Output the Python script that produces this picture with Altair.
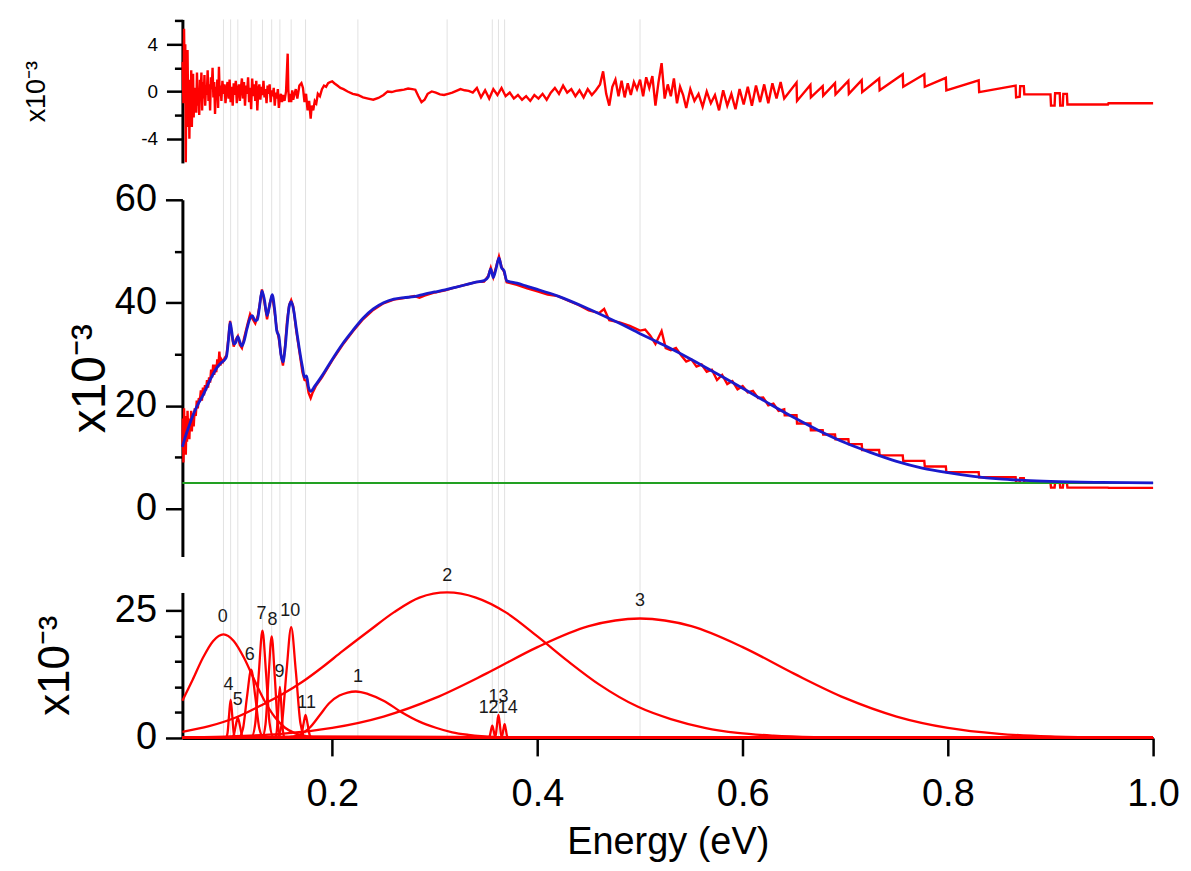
import altair as alt
import pandas as pd

FONT = "Liberation Sans"
RED = "#ff0000"
BLUE = "#1a1acc"
GREEN = "#22a022"
GRID = "#e2e2e2"

# ---------------- data (values in units of 1e-3) ----------------
GRID_X = [0.094, 0.101, 0.108, 0.121, 0.132, 0.141, 0.149, 0.160, 0.174,
          0.225, 0.312, 0.356, 0.362, 0.368, 0.5]
X_TICKS = [0.2, 0.4, 0.6, 0.8, 1.0]

RESIDUAL = [
    (0.0543, 2.5), (0.0550, -1.0), (0.0556, 5.3), (0.0562, 1.0), (0.0568, 4.0), (0.0573, -6.0),
    (0.0579, 2.0), (0.0585, -3.0), (0.0590, 3.5), (0.0596, -1.5), (0.0602, 1.0), (0.0608, -4.0),
    (0.0614, 0.5), (0.0620, -2.5), (0.0626, 1.8), (0.0632, -3.0), (0.0638, -0.2), (0.0644, 1.5),
    (0.0650, -2.2), (0.0656, 0.3), (0.0662, -0.8), (0.0668, 0.2), (0.0675, -1.8), (0.0682, 1.6),
    (0.0690, -1.2), (0.0697, 0.3), (0.0704, -2.0), (0.0711, 1.0), (0.0718, -0.5), (0.0725, 1.6),
    (0.0732, -1.6), (0.0740, 0.8), (0.0747, -0.6), (0.0755, 1.4), (0.0762, -1.2), (0.0770, 0.5),
    (0.0778, -0.3), (0.0786, 1.8), (0.0794, -0.8), (0.0802, 0.6), (0.0810, -1.6), (0.0818, 1.2),
    (0.0826, 0.2), (0.0834, 2.0), (0.0842, -0.5), (0.0850, 0.8), (0.0858, -1.9), (0.0866, 0.4),
    (0.0874, -0.6), (0.0880, 1.0), (0.0888, -1.4), (0.0896, 2.1), (0.0904, -0.4), (0.0912, 0.5),
    (0.0920, -0.8), (0.0930, 0.9), (0.0940, -0.2), (0.0950, 0.6), (0.0960, -1.0), (0.0970, 0.2),
    (0.0980, 0.8), (0.0990, -0.6), (0.1000, 1.0), (0.1010, -0.9), (0.1020, 0.4), (0.1030, -1.2),
    (0.1040, 0.7), (0.1050, -0.3), (0.1060, 0.9), (0.1070, -1.0), (0.1080, 0.2), (0.1090, 0.6),
    (0.1100, -0.8), (0.1110, 0.3), (0.1120, 1.1), (0.1130, -0.6), (0.1140, 0.8), (0.1150, -1.2),
    (0.1160, 0.5), (0.1170, -0.2), (0.1180, 1.2), (0.1190, -0.9), (0.1200, 0.3), (0.1210, -1.5),
    (0.1220, 1.1), (0.1230, -0.4), (0.1240, 0.6), (0.1250, -0.8), (0.1260, 0.9), (0.1270, -1.6),
    (0.1280, 0.2), (0.1290, 0.6), (0.1300, -0.7), (0.1310, 0.4), (0.1320, -0.3), (0.1330, 0.9),
    (0.1340, -0.5), (0.1350, 0.2), (0.1360, -1.0), (0.1370, 0.5), (0.1380, -0.2), (0.1390, 0.6),
    (0.1400, -0.9), (0.1410, 0.1), (0.1420, -0.4), (0.1430, 0.3), (0.1440, -1.2), (0.1450, -0.1),
    (0.1460, -0.6), (0.1470, 0.2), (0.1480, -1.4), (0.1490, -0.5), (0.1500, -0.2), (0.1510, -0.9),
    (0.1520, -0.3), (0.1535, -0.8), (0.1550, 0.0), (0.1560, 2.0), (0.1566, 3.2), (0.1572, 0.2),
    (0.1580, -0.9), (0.1590, -0.2), (0.1600, -0.9), (0.1610, 0.1), (0.1620, -0.7), (0.1630, -0.3),
    (0.1645, 0.2), (0.1660, -0.6), (0.1680, 0.5), (0.1700, 0.7), (0.1715, 0.3), (0.1730, -0.9),
    (0.1745, -0.2), (0.1760, -1.6), (0.1775, -0.8), (0.1790, -2.3), (0.1800, -1.2), (0.1815, -1.6),
    (0.1830, -0.8), (0.1845, -1.0), (0.1860, -0.2), (0.1880, -0.4), (0.1900, 0.2), (0.1920, 0.5),
    (0.1940, 0.4), (0.1960, 0.7), (0.1980, 0.8), (0.2000, 0.85), (0.2020, 0.7), (0.2050, 0.5),
    (0.2080, 0.3), (0.2110, 0.2), (0.2150, 0.0), (0.2200, -0.2), (0.2250, -0.3), (0.2300, -0.5),
    (0.2350, -0.6), (0.2400, -0.7), (0.2450, -0.55), (0.2500, -0.3), (0.2540, 0.0), (0.2580, -0.05),
    (0.2620, 0.05), (0.2660, 0.1), (0.2700, 0.15), (0.2740, 0.25), (0.2780, 0.2), (0.2810, 0.15),
    (0.2840, -0.4), (0.2870, -0.9), (0.2900, -0.7), (0.2930, -0.2), (0.2970, 0.0), (0.3010, -0.1),
    (0.3050, -0.25), (0.3090, -0.3), (0.3130, -0.2), (0.3170, -0.1), (0.3210, 0.05), (0.3250, 0.2),
    (0.3290, 0.1), (0.3330, 0.05), (0.337, -0.1), (0.341, 0.3), (0.345, -0.5), (0.349, 0.1),
    (0.353, -0.6), (0.357, 0.2), (0.361, -0.3), (0.365, 0.3), (0.369, -0.4), (0.373, -0.1),
    (0.377, -0.6), (0.381, -0.3), (0.385, -0.7), (0.389, -0.4), (0.393, -0.8), (0.397, -0.3),
    (0.401, -0.6), (0.405, -0.2), (0.409, -0.7), (0.413, -0.1), (0.417, 0.3), (0.421, -0.2),
    (0.425, 0.5), (0.429, -0.1), (0.433, 0.2), (0.437, -0.4), (0.441, 0.1), (0.445, -0.5),
    (0.449, 0.2), (0.453, -0.3), (0.457, 0.1), (0.461, 0.6), (0.464, 1.7), (0.467, -0.2),
    (0.470, -1.2), (0.473, 0.4), (0.476, 1.0), (0.479, -0.4), (0.482, 0.9), (0.485, -0.5),
    (0.488, 0.7), (0.491, -0.3), (0.494, 0.8), (0.497, 0.2), (0.500, 1.0), (0.503, -0.4),
    (0.506, 1.2), (0.509, 0.3), (0.512, 1.3), (0.515, -1.2), (0.518, 0.8), (0.521, 2.4),
    (0.524, -0.6), (0.527, 0.6), (0.530, -0.4), (0.533, 1.1), (0.536, -1.0), (0.539, 0.4),
    (0.542, -0.3), (0.545, -1.4), (0.549, 0.2), (0.553, -0.8), (0.557, -0.2), (0.561, -1.3),
    (0.565, 0.0), (0.569, -1.0), (0.573, -0.3), (0.577, -1.6), (0.581, 0.1), (0.585, -1.2),
    (0.589, -0.2), (0.593, -1.5), (0.597, 0.2), (0.601, -1.1), (0.605, 0.4), (0.609, -1.2),
    (0.613, 0.5), (0.617, -0.9), (0.621, 0.6), (0.625, -1.0), (0.629, 0.7), (0.633, -0.6),
    (0.637, 0.8), (0.6405, -0.6), (0.6525, 0.75), (0.6530, -0.8), (0.6660, 0.55), (0.6665, -0.5),
    (0.6780, 0.45), (0.6785, -0.35), (0.6900, 0.7), (0.6905, -0.25), (0.7030, 0.9), (0.7035, -0.2),
    (0.7160, 0.95), (0.7165, -0.05), (0.7330, 1.1), (0.7335, 0.1), (0.7560, 1.45), (0.7565, 0.4),
    (0.7770, 1.45), (0.7775, 0.4), (0.7980, 1.15), (0.7985, 0.1), (0.8300, 0.95), (0.8305, -0.05),
    (0.8660, 0.5), (0.8665, -0.5), (0.8700, -0.45), (0.8705, 0.45), (0.8740, 0.45), (0.8745, -0.25),
    (0.9000, -0.25), (0.9005, -1.2), (0.9040, -1.2), (0.9045, -0.15), (0.9090, -0.15), (0.9095, -1.2),
    (0.9120, -1.2), (0.9125, -0.2), (0.9160, -0.2), (0.9165, -1.1), (0.9560, -1.1), (0.9565, -1.0),
    (1.0000, -1.0),
]

MEASURED = [
    (0.0540, 12.0), (0.0545, 17.5), (0.0550, 9.0), (0.0556, 19.5), (0.0562, 13.0), (0.0568, 18.0),
    (0.0573, 10.5), (0.0579, 16.5), (0.0585, 13.0), (0.0590, 19.0), (0.0596, 15.0), (0.0602, 17.0),
    (0.0608, 13.5), (0.0614, 17.5), (0.0620, 15.5), (0.0626, 19.0), (0.0632, 15.0), (0.0640, 18.5),
    (0.0650, 16.0), (0.0660, 19.5), (0.0670, 18.0), (0.0680, 21.0), (0.0690, 19.5), (0.0700, 21.5),
    (0.0710, 21.0), (0.0720, 23.0), (0.0730, 21.0), (0.0740, 23.5), (0.0750, 22.0), (0.0760, 24.0),
    (0.0770, 23.0), (0.0780, 25.0), (0.0790, 23.5), (0.0800, 25.5), (0.0810, 24.5), (0.0820, 27.0),
    (0.0830, 25.5), (0.0840, 28.0), (0.0850, 26.0), (0.0860, 28.0), (0.0870, 26.5), (0.0880, 29.0),
    (0.0890, 27.5), (0.0900, 30.5), (0.0910, 27.8), (0.0920, 29.0), (0.0935, 28.5), (0.0950, 29.2),
    (0.0970, 29.8), (0.0990, 33.5), (0.1005, 36.5), (0.1020, 34.0), (0.1040, 31.5), (0.1060, 32.8),
    (0.1080, 33.5), (0.1100, 31.8), (0.1120, 31.2), (0.1140, 33.0), (0.1170, 35.5), (0.1200, 37.8),
    (0.1220, 37.0), (0.1250, 36.0), (0.1275, 37.5), (0.1300, 40.5), (0.1315, 42.6), (0.1340, 40.0),
    (0.1365, 36.8), (0.1390, 39.8), (0.1415, 41.5), (0.1440, 38.0), (0.1460, 34.8), (0.1480, 33.0),
    (0.1500, 30.0), (0.1520, 27.8), (0.1540, 31.5), (0.1560, 36.5), (0.1580, 39.5), (0.1600, 40.5),
    (0.1620, 39.3), (0.1650, 34.5), (0.1680, 30.5), (0.1710, 26.5), (0.1730, 25.0), (0.1750, 24.8),
    (0.1770, 22.5), (0.1790, 21.5), (0.1810, 22.6), (0.1840, 23.8), (0.1900, 25.5), (0.2000, 28.8),
    (0.2100, 31.8), (0.2200, 34.4), (0.2300, 36.8), (0.2400, 38.6), (0.2500, 39.9), (0.2600, 40.6),
    (0.2700, 40.9), (0.2800, 41.3), (0.2850, 41.0), (0.2900, 41.4), (0.3000, 42.0), (0.3100, 42.4),
    (0.3200, 43.0), (0.3300, 43.5), (0.3400, 44.0), (0.3480, 44.1), (0.3520, 45.2), (0.3545, 46.8),
    (0.3570, 45.0), (0.3595, 46.8), (0.3625, 49.0), (0.3650, 47.0), (0.3675, 46.0), (0.3700, 44.0),
    (0.3800, 43.5), (0.3900, 42.8), (0.4000, 42.2), (0.4100, 41.6), (0.4200, 41.3), (0.4300, 40.4),
    (0.4400, 39.6), (0.4500, 38.5), (0.4600, 38.0), (0.4650, 38.8), (0.4700, 36.6), (0.4800, 36.2),
    (0.4900, 35.5), (0.5000, 34.6), (0.5050, 34.8), (0.5100, 33.6), (0.5150, 32.0), (0.5210, 34.5),
    (0.5250, 31.2), (0.5300, 30.8), (0.5350, 31.2), (0.5400, 29.8), (0.5450, 28.6), (0.5500, 29.0),
    (0.5550, 27.6), (0.5600, 28.0), (0.5650, 26.6), (0.5700, 27.0), (0.5750, 25.0), (0.5800, 26.0),
    (0.5850, 24.2), (0.5900, 24.8), (0.5950, 23.2), (0.6000, 23.8), (0.6050, 22.6), (0.6100, 22.9),
    (0.6150, 21.5), (0.6200, 21.6), (0.6250, 20.1), (0.6300, 20.4), (0.6350, 19.0), (0.6405, 19.3),
    (0.6410, 18.15), (0.6525, 18.15), (0.6530, 16.55), (0.6660, 16.55), (0.6665, 15.25), (0.6780, 15.25),
    (0.6785, 14.4), (0.6900, 14.4), (0.6905, 13.5), (0.7030, 13.5), (0.7035, 12.55), (0.7160, 12.55),
    (0.7165, 11.4), (0.7330, 11.4), (0.7335, 10.35), (0.7560, 10.35), (0.7565, 9.3), (0.7770, 9.3),
    (0.7775, 8.2), (0.7980, 8.2), (0.7985, 7.1), (0.8300, 7.1), (0.8305, 6.1), (0.8660, 6.1),
    (0.8665, 5.05), (0.8700, 5.05), (0.8705, 5.95), (0.8740, 5.95), (0.8745, 5.05), (0.9000, 5.05),
    (0.9005, 4.1), (0.9040, 4.1), (0.9045, 5.13), (0.9090, 5.13), (0.9095, 4.1), (0.9120, 4.1),
    (0.9125, 5.05), (0.9160, 5.05), (0.9165, 4.1), (0.9560, 4.1), (0.9565, 4.05), (1.0000, 4.05),
]

FIT = [
    (0.0540, 12.0), (0.0563, 13.6), (0.0600, 15.8), (0.0650, 18.5), (0.0700, 20.6), (0.0740, 22.0),
    (0.0790, 24.2), (0.0835, 26.0), (0.0880, 27.5), (0.0920, 28.4), (0.0950, 28.9), (0.0970, 29.6),
    (0.0990, 33.0), (0.1005, 36.2), (0.1020, 34.5), (0.1040, 32.0), (0.1060, 32.3), (0.1080, 33.4),
    (0.1100, 32.4), (0.1120, 31.6), (0.1140, 32.5), (0.1170, 35.0), (0.1200, 37.0), (0.1220, 37.5),
    (0.1250, 36.5), (0.1270, 36.7), (0.1290, 39.0), (0.1315, 42.3), (0.1340, 40.5), (0.1365, 37.5),
    (0.1390, 39.5), (0.1415, 41.6), (0.1440, 38.5), (0.1460, 34.5), (0.1480, 33.5), (0.1500, 30.0),
    (0.1520, 28.5), (0.1540, 31.0), (0.1560, 35.5), (0.1580, 39.2), (0.1600, 40.2), (0.1620, 39.0),
    (0.1650, 35.0), (0.1680, 31.0), (0.1710, 27.5), (0.1730, 25.5), (0.1750, 25.8), (0.1770, 23.5),
    (0.1790, 22.8), (0.1830, 23.8), (0.1900, 25.8), (0.2000, 29.0), (0.2100, 32.0), (0.2200, 34.6),
    (0.2300, 37.0), (0.2400, 38.8), (0.2500, 40.0), (0.2600, 40.7), (0.2700, 41.0), (0.2800, 41.2),
    (0.2900, 41.7), (0.3000, 42.1), (0.3100, 42.5), (0.3200, 43.0), (0.3300, 43.5), (0.3400, 44.0),
    (0.3480, 44.3), (0.3520, 45.0), (0.3545, 46.6), (0.3570, 44.9), (0.3595, 46.5), (0.3625, 48.7),
    (0.3650, 46.8), (0.3675, 46.2), (0.3700, 44.3), (0.3800, 43.8), (0.3900, 43.2), (0.4000, 42.6),
    (0.4200, 41.3), (0.4500, 38.8), (0.4800, 36.0), (0.5000, 34.0), (0.5250, 31.6), (0.5500, 29.0),
    (0.5750, 26.2), (0.6000, 23.4), (0.6250, 20.5), (0.6500, 17.7), (0.6750, 15.1), (0.7000, 12.8),
    (0.7250, 10.9), (0.7500, 9.2), (0.7750, 7.9), (0.8000, 7.0), (0.8250, 6.3), (0.8500, 5.8),
    (0.8750, 5.5), (0.9000, 5.3), (0.9500, 5.1), (1.0000, 5.0),
]

BASELINE = [5.0]

PEAK_0 = [(0.054, 7.3), (0.064, 11.4), (0.074, 15.7), (0.084, 19.0), (0.094, 20.3), (0.104, 19.0),
          (0.114, 15.7), (0.124, 11.4), (0.134, 7.3), (0.144, 4.1), (0.154, 2.0), (0.164, 0.9),
          (0.174, 0.34), (0.19, 0.06), (0.21, 0.0), (1.0, 0.0)]
PEAK_1 = [(0.054, 0.0), (0.15, 0.05), (0.16, 0.2), (0.17, 0.8), (0.178, 2.0), (0.188, 4.5),
          (0.197, 6.8), (0.207, 8.3), (0.215, 8.9), (0.223, 9.1), (0.235, 8.6), (0.25, 7.3),
          (0.268, 5.0), (0.285, 3.2), (0.301, 2.0), (0.317, 1.1), (0.333, 0.6), (0.36, 0.15),
          (0.38, 0.03), (1.0, 0.0)]
PEAK_2 = [(0.054, 1.2), (0.08, 2.3), (0.106, 4.0), (0.13, 6.3), (0.15, 8.4), (0.171, 11.0),
          (0.19, 13.8), (0.21, 17.0), (0.236, 21.0), (0.26, 24.6), (0.285, 27.5), (0.312, 28.5),
          (0.34, 27.5), (0.37, 24.5), (0.40, 19.9), (0.43, 15.0), (0.46, 10.5), (0.498, 6.1),
          (0.53, 3.7), (0.563, 2.0), (0.595, 1.0), (0.63, 0.45), (0.67, 0.15), (0.72, 0.03),
          (1.0, 0.0)]
PEAK_3 = [(0.054, 0.1), (0.10, 0.29), (0.15, 0.81), (0.20, 1.98), (0.25, 4.2), (0.30, 7.8),
          (0.35, 12.6), (0.40, 17.8), (0.45, 21.9), (0.50, 23.4), (0.55, 21.9), (0.60, 17.8),
          (0.65, 12.6), (0.70, 7.8), (0.75, 4.2), (0.80, 1.98), (0.85, 0.81), (0.90, 0.29),
          (0.95, 0.09), (1.0, 0.03)]
PEAK_4 = [(0.054, 0.0), (0.0965, 0.08), (0.098, 1.0), (0.0995, 4.55), (0.101, 7.5), (0.1025, 4.55),
          (0.104, 1.0), (0.1055, 0.08), (1.0, 0.0)]
PEAK_5 = [(0.054, 0.0), (0.102, 0.04), (0.104, 0.54), (0.106, 2.43), (0.108, 4.0), (0.110, 2.43),
          (0.112, 0.54), (0.114, 0.04), (1.0, 0.0)]
PEAK_6 = [(0.054, 0.0), (0.109, 0.15), (0.113, 1.81), (0.117, 8.13), (0.121, 13.4), (0.125, 8.13),
          (0.129, 1.81), (0.133, 0.15), (1.0, 0.0)]
PEAK_7 = [(0.054, 0.0), (0.1215, 0.23), (0.125, 2.84), (0.1285, 12.75), (0.132, 21.0), (0.1355, 12.75),
          (0.139, 2.84), (0.1425, 0.23), (1.0, 0.0)]
PEAK_8 = [(0.054, 0.0), (0.132, 0.22), (0.135, 2.69), (0.138, 12.08), (0.141, 19.9), (0.144, 12.08),
          (0.147, 2.69), (0.150, 0.22), (1.0, 0.0)]
PEAK_9 = [(0.054, 0.0), (0.1445, 0.11), (0.146, 1.35), (0.1475, 6.07), (0.149, 10.0), (0.1505, 6.07),
          (0.152, 1.35), (0.1535, 0.11), (1.0, 0.0)]
PEAK_10 = [(0.054, 0.0), (0.1465, 0.24), (0.151, 2.93), (0.1555, 13.17), (0.160, 21.7), (0.1645, 13.17),
           (0.169, 2.93), (0.1735, 0.24), (1.0, 0.0)]
PEAK_11 = [(0.054, 0.0), (0.168, 0.05), (0.170, 0.61), (0.172, 2.73), (0.174, 4.5), (0.176, 2.73),
           (0.178, 0.61), (0.180, 0.05), (1.0, 0.0)]
PEAK_12 = [(0.054, 0.0), (0.3521, 0.03), (0.3534, 0.32), (0.3547, 1.46), (0.356, 2.4), (0.3573, 1.46),
           (0.3586, 0.32), (0.3599, 0.03), (1.0, 0.0)]
PEAK_13 = [(0.054, 0.0), (0.3581, 0.05), (0.3594, 0.61), (0.3607, 2.73), (0.362, 4.5), (0.3633, 2.73),
           (0.3646, 0.61), (0.3659, 0.05), (1.0, 0.0)]
PEAK_14 = [(0.054, 0.0), (0.3644, 0.03), (0.3656, 0.36), (0.3668, 1.64), (0.368, 2.7), (0.3692, 1.64),
           (0.3704, 0.36), (0.3716, 0.03), (1.0, 0.0)]
PEAKS = [PEAK_0, PEAK_1, PEAK_2, PEAK_3, PEAK_4, PEAK_5, PEAK_6, PEAK_7, PEAK_8, PEAK_9,
         PEAK_10, PEAK_11, PEAK_12, PEAK_13, PEAK_14]

LABEL_TEXT = ["0", "1", "2", "3", "4", "5", "6", "7", "8", "9", "10", "11", "12", "13", "14"]
LABEL_X = [0.0932, 0.225, 0.312, 0.5, 0.099, 0.108, 0.1195, 0.131, 0.1418, 0.1487, 0.159, 0.175,
           0.3524, 0.362, 0.371]
LABEL_Y = [23.6, 12.0, 31.7, 26.8, 10.4, 7.5, 16.3, 24.2, 23.2, 13.0, 24.8, 6.9, 5.9, 8.1, 5.9]

# ---------------- frames ----------------
def frame(pairs):
    return pd.DataFrame(pairs, columns=["x", "y"])

res_df = frame(RESIDUAL)
meas_df = frame(MEASURED)
fit_df = frame(FIT)
base_df = pd.DataFrame({"y": BASELINE})
grid_df = pd.DataFrame({"x": GRID_X})
comp_df = pd.concat([frame(p).assign(peak=i) for i, p in enumerate(PEAKS)], ignore_index=True)
lab_df = pd.DataFrame({"x": LABEL_X, "y": LABEL_Y, "label": LABEL_TEXT})

# ---------------- layout / scales ----------------
VIEW_W, VIEW_H = 974, 721
X_DOMAIN = [0.054, 1.0]
TOP_DOMAIN, TOP_RANGE = [-6.05, 6.1], [144, 0]
MID_DOMAIN, MID_RANGE = [-9.3, 60], [539, 181]
BOT_DOMAIN, BOT_RANGE = [0, 28.5], [721, 575]
NEG_LABEL = "datum.value < 0 ? '-' + abs(datum.value) : '' + datum.value"

X_AXIS = alt.Axis(values=X_TICKS, format=".1f", tickSize=18, labelFontSize=38, labelPadding=20,
                  labelFlush=False, title="Energy (eV)", titleFontSize=38, titlePadding=10)


def xenc():
    return alt.X("x:Q", scale=alt.Scale(domain=X_DOMAIN, nice=False, zero=False), axis=X_AXIS)


def yscale(domain, rng):
    return alt.Scale(domain=domain, range=rng, nice=False, zero=False)


def major_axis(values, size, tick, pad, title, tsize, tpad):
    return alt.Axis(orient="left", values=values, tickSize=tick, labelFontSize=size,
                    labelPadding=pad, labelExpr=NEG_LABEL, title=title, titleFontSize=tsize,
                    titlePadding=tpad)


def minor_axis(values):
    return alt.Axis(orient="left", values=values, tickSize=8, labels=False, domain=False,
                    title=None)


Y_TOP = alt.Y("y:Q", scale=yscale(TOP_DOMAIN, TOP_RANGE),
              axis=major_axis([4, 0, -4], 19, 16, 9, "x10⁻³", 27, 90))
Y_TOP_MINOR = alt.Y("y:Q", scale=yscale(TOP_DOMAIN, TOP_RANGE), axis=minor_axis([6, 2, -2]))
Y_MID = alt.Y("y:Q", scale=yscale(MID_DOMAIN, MID_RANGE),
              axis=major_axis([60, 40, 20, 0], 38, 17, 9, "x10⁻³", 48, 0))
Y_MID_MINOR = alt.Y("y:Q", scale=yscale(MID_DOMAIN, MID_RANGE), axis=minor_axis([50, 30, 10]))
Y_BOT = alt.Y("y:Q", scale=yscale(BOT_DOMAIN, BOT_RANGE),
              axis=major_axis([25, 0], 38, 17, 9, "x10⁻³", 44, 37))
Y_BOT_MINOR = alt.Y("y:Q", scale=yscale(BOT_DOMAIN, BOT_RANGE), axis=minor_axis([20, 15, 10, 5]))

# ---------------- layers ----------------
grid = alt.Chart(grid_df).mark_rule(color=GRID, strokeWidth=1).encode(x=xenc())

top = alt.Chart(res_df).mark_line(color=RED, strokeWidth=2.4).encode(x=xenc(), y=Y_TOP)
top_minor = alt.Chart(res_df).mark_line(strokeOpacity=0).encode(x=xenc(), y=Y_TOP_MINOR)

meas = alt.Chart(meas_df).mark_line(color=RED, strokeWidth=2.4).encode(x=xenc(), y=Y_MID)
green = alt.Chart(base_df).mark_rule(color=GREEN, strokeWidth=2).encode(y=Y_MID)
fit = alt.Chart(fit_df).mark_line(color=BLUE, strokeWidth=2.8, interpolate="monotone").encode(
    x=xenc(), y=Y_MID)
mid = alt.layer(meas, green, fit)
mid_minor = alt.Chart(fit_df).mark_line(strokeOpacity=0).encode(x=xenc(), y=Y_MID_MINOR)

comps = alt.Chart(comp_df).mark_line(color=RED, strokeWidth=2.3, interpolate="monotone").encode(
    x=xenc(), y=Y_BOT, detail="peak:N")
labels = alt.Chart(lab_df).mark_text(font=FONT, fontSize=18, color="#1a1a1a", baseline="middle",
                                     align="center").encode(x=xenc(), y=Y_BOT, text="label:N")
bot = alt.layer(comps, labels)
bot_minor = alt.Chart(comp_df).mark_line(strokeOpacity=0).encode(
    x=xenc(), y=Y_BOT_MINOR, detail="peak:N")

chart = (
    alt.layer(grid, top, top_minor, mid, mid_minor, bot, bot_minor)
    .resolve_scale(y="independent")
    .properties(width=VIEW_W, height=VIEW_H,
                padding={"left": 175, "top": 10, "right": 30, "bottom": 124},
                autosize=alt.AutoSizeParams(type="none"))
    .configure_view(stroke=None)
    .configure_axis(domainColor="black", domainWidth=3, tickColor="black", tickWidth=2.5,
                    labelColor="black", titleColor="black", labelFont=FONT, titleFont=FONT,
                    titleFontWeight="normal", grid=False)
)

chart.save("out.html", embed_options={"renderer": "svg", "actions": False})
